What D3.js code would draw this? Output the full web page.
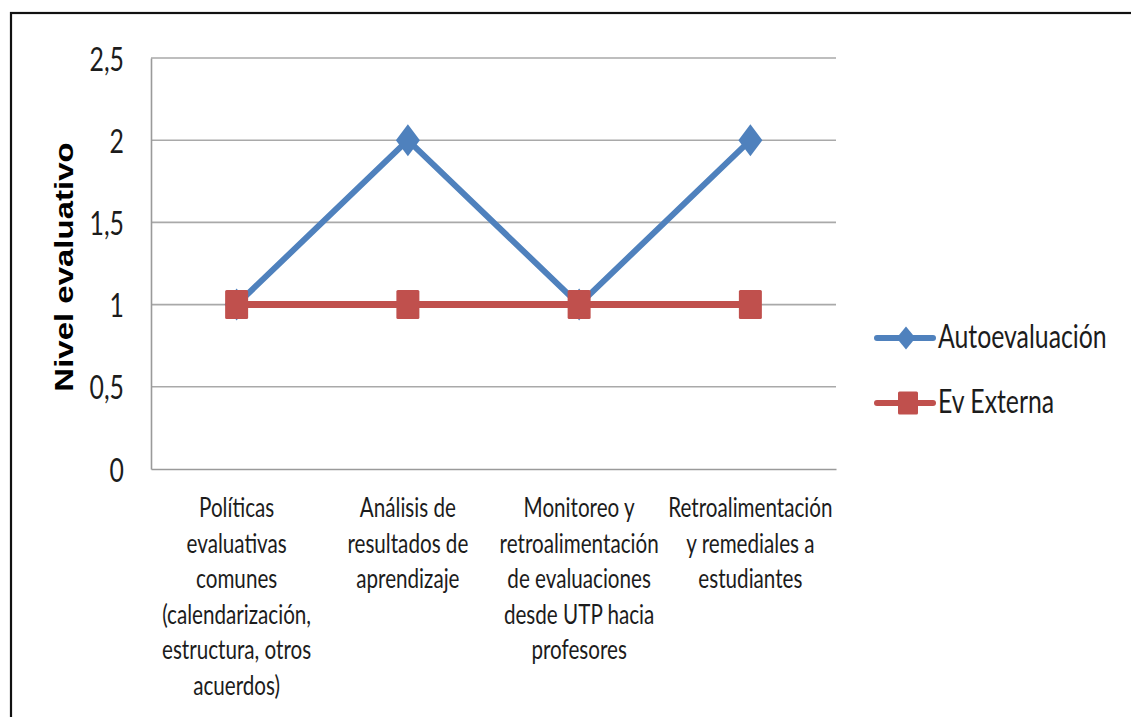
<!DOCTYPE html>
<html>
<head>
<meta charset="utf-8">
<script src="https://cdn.jsdelivr.net/npm/d3@7"></script>
<style>
  html, body { margin: 0; padding: 0; background: #fff; }
  svg { display: block; }
</style>
</head>
<body>
<svg id="chart" width="1131" height="717"></svg>
<script>
// ---- data ----
const categories = [
  "Políticas\nevaluativas\ncomunes\n(calendarización,\nestructura, otros\nacuerdos)",
  "Análisis de\nresultados de\naprendizaje",
  "Monitoreo y\nretroalimentación\nde evaluaciones\ndesde UTP hacia\nprofesores",
  "Retroalimentación\ny remediales a\nestudiantes"
];
const seriesNames = ["Autoevaluación", "Ev Externa"];
const autoevaluacion = [1, 2, 1, 2];
const evExterna = [1, 1, 1, 1];
const yTicks = [0, 0.5, 1, 1.5, 2, 2.5];
const yTitle = "Nivel evaluativo";

// ---- layout / style ----
const W = 1131, H = 717;
const plot = { left: 151, right: 836, top: 58, bottom: 469 };
const SX = 0.776;               // horizontal condensing of text
const FONT = "Lato, 'Open Sans', sans-serif";
const TXT = "#1c1c1c";
const BLUE = "#4F81BD", RED = "#C0504D";

const svg = d3.select("#chart");

// outer border (only top & left visible)
svg.append("rect")
  .attr("x", 11).attr("y", 13).attr("width", 1400).attr("height", 900)
  .attr("fill", "none").attr("stroke", "#111").attr("stroke-width", 2.2);

const x = d3.scaleBand().domain(categories).range([plot.left, plot.right]).paddingInner(0).paddingOuter(0);
const cx = c => x(c) + x.bandwidth() / 2;
const y = d3.scaleLinear().domain([0, 2.5]).range([plot.bottom, plot.top]);

// gridlines
svg.append("g")
  .selectAll("line").data(yTicks.filter(d => d > 0)).join("line")
  .attr("x1", plot.left).attr("x2", plot.right)
  .attr("y1", d => y(d)).attr("y2", d => y(d))
  .attr("stroke", "#a9a9a9").attr("stroke-width", 1.6);

// y axis
const yAxis = svg.append("g").attr("transform", `translate(${plot.left},0)`)
  .call(d3.axisLeft(y).tickValues(yTicks).tickSize(0).tickPadding(0)
    .tickFormat(d => String(d).replace(".", ",")));
yAxis.select(".domain").attr("stroke", "#9a9a9a").attr("stroke-width", 1.6);
yAxis.selectAll("text")
  .attr("x", -27 / SX).attr("dy", null).attr("y", 12)
  .attr("transform", `scale(${SX},1)`)
  .attr("text-anchor", "end")
  .style("font-family", FONT).style("font-size", "32px").attr("fill", TXT);

// x axis
const xAxis = svg.append("g").attr("transform", `translate(0,${plot.bottom})`)
  .call(d3.axisBottom(x).tickSize(0).tickFormat(""));
xAxis.select(".domain").attr("stroke", "#9a9a9a").attr("stroke-width", 1.6);
xAxis.selectAll(".tick text").remove();
xAxis.selectAll(".tick").append("text")
  .attr("transform", `scale(${SX},1)`)
  .attr("text-anchor", "middle")
  .style("font-family", FONT).style("font-size", "26.6px").attr("fill", TXT)
  .each(function (d) {
    const lines = d.split("\n");
    d3.select(this).selectAll("tspan").data(lines).join("tspan")
      .attr("x", 0).attr("y", (l, i) => 48 + i * 35.6).text(l => l);
  });

// y title
svg.append("text")
  .attr("transform", `translate(73,267) rotate(-90) scale(1.32,1)`)
  .attr("text-anchor", "middle")
  .style("font-family", "'Liberation Sans', Arial, sans-serif")
  .style("font-weight", "bold").style("font-size", "25px")
  .attr("fill", "#000").text(yTitle);

// series
const line = d3.line().x((d, i) => cx(categories[i])).y(d => y(d));
const diamond = (px, py, hw, hh) => `M${px},${py - hh}L${px + hw},${py}L${px},${py + hh}L${px - hw},${py}Z`;

const gA = svg.append("g");
gA.append("path").datum(autoevaluacion).attr("d", line)
  .attr("fill", "none").attr("stroke", BLUE).attr("stroke-width", 6).attr("stroke-linejoin", "round");
gA.selectAll("path.m").data(autoevaluacion).join("path").attr("class", "m")
  .attr("d", (d, i) => diamond(cx(categories[i]), y(d), 12, 16))
  .attr("fill", BLUE);

const gE = svg.append("g");
gE.append("path").datum(evExterna).attr("d", line)
  .attr("fill", "none").attr("stroke", RED).attr("stroke-width", 7).attr("stroke-linejoin", "round");
gE.selectAll("rect").data(evExterna).join("rect")
  .attr("x", (d, i) => cx(categories[i]) - 11.5).attr("y", d => y(d) - 14.5)
  .attr("width", 23).attr("height", 29).attr("rx", 1.5)
  .attr("fill", RED);

// legend
const legend = svg.append("g");
const legY = [338, 403];
const legColors = [BLUE, RED];
seriesNames.forEach((name, i) => {
  const g = legend.append("g").attr("transform", `translate(0,${legY[i]})`);
  g.append("line").attr("x1", 877).attr("x2", 933).attr("y1", 0).attr("y2", 0)
    .attr("stroke", legColors[i]).attr("stroke-width", 6).attr("stroke-linecap", "round");
  if (i === 0) {
    g.append("path").attr("d", diamond(906, 0, 9.5, 11.5)).attr("fill", BLUE);
  } else {
    g.append("rect").attr("x", 898).attr("y", -11.5).attr("width", 20).attr("height", 23)
      .attr("rx", 1.5).attr("fill", RED);
  }
  g.append("text").attr("transform", `translate(938,10) scale(${SX},1)`)
    .style("font-family", FONT).style("font-size", "32px").attr("fill", TXT)
    .text(name);
});
</script>
</body>
</html>
